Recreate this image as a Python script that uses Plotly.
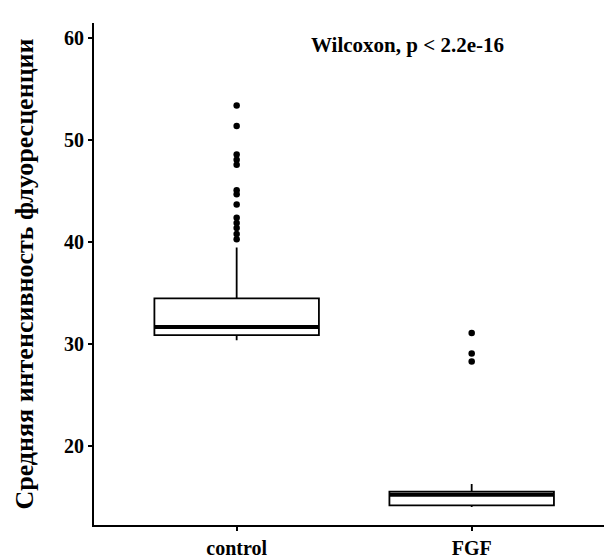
import plotly.graph_objects as go

categories = ["control", "FGF"]
x_pos = [1, 2]
q1 = [30.9, 14.2]
median = [31.7, 15.25]
q3 = [34.5, 15.55]
lowerfence = [30.4, 14.05]
upperfence = [39.5, 16.3]
outliers_control = [53.4, 51.4, 48.6, 48.1, 47.6, 45.1, 44.7, 43.7, 42.4, 41.9, 41.4, 40.8, 40.3]
outliers_fgf = [31.1, 29.1, 28.3]
y_ticks = [20, 30, 40, 50, 60]
annotation_text = "Wilcoxon, p < 2.2e-16"
y_title = "Средняя интенсивность флуоресценции"

font_family = "Liberation Serif"
box_width = 0.70

fig = go.Figure()
fig.add_trace(go.Box(
    x=x_pos, q1=q1, median=median, q3=q3,
    lowerfence=lowerfence, upperfence=upperfence,
    width=box_width, whiskerwidth=0,
    fillcolor="white", line=dict(color="black", width=1.8),
    boxpoints=False, showlegend=False, hoverinfo="skip",
))
for xi, m in zip(x_pos, median):
    fig.add_trace(go.Scatter(
        x=[xi - box_width / 2, xi + box_width / 2], y=[m, m],
        mode="lines", line=dict(color="black", width=4),
        showlegend=False, hoverinfo="skip",
    ))
fig.add_trace(go.Scatter(
    x=[x_pos[0]] * len(outliers_control) + [x_pos[1]] * len(outliers_fgf),
    y=outliers_control + outliers_fgf,
    mode="markers", marker=dict(color="black", size=6.5),
    showlegend=False,
))
fig.add_annotation(
    x=1.725, y=59.3, xref="x", yref="y", text=annotation_text, showarrow=False,
    font=dict(family=font_family, size=21, color="black", weight="bold"),
)
fig.update_layout(
    width=604, height=559,
    margin=dict(l=94, r=0, t=23, b=26),
    plot_bgcolor="white", paper_bgcolor="white",
    font=dict(family=font_family, color="black"),
    xaxis=dict(
        range=[0.393, 2.563], tickvals=x_pos, ticktext=categories,
        showline=True, linecolor="black", linewidth=1.8,
        ticks="outside", ticklen=4, tickcolor="black", tickwidth=1.8,
        showgrid=False, zeroline=False,
        tickfont=dict(family=font_family, size=20, color="black", weight="bold"),
    ),
    yaxis=dict(
        range=[12.28, 61.5], tickvals=y_ticks,
        showline=True, linecolor="black", linewidth=1.8,
        ticks="outside", ticklen=4, tickcolor="black", tickwidth=1.8,
        showgrid=False, zeroline=False,
        tickfont=dict(family=font_family, size=20, color="black", weight="bold"),
        title=dict(text=y_title, standoff=23,
                   font=dict(family=font_family, size=26, color="black", weight="bold")),
    ),
)
fig.write_html("out.html", post_script="document.body.style.margin='0';",
               config={"displayModeBar": False})
